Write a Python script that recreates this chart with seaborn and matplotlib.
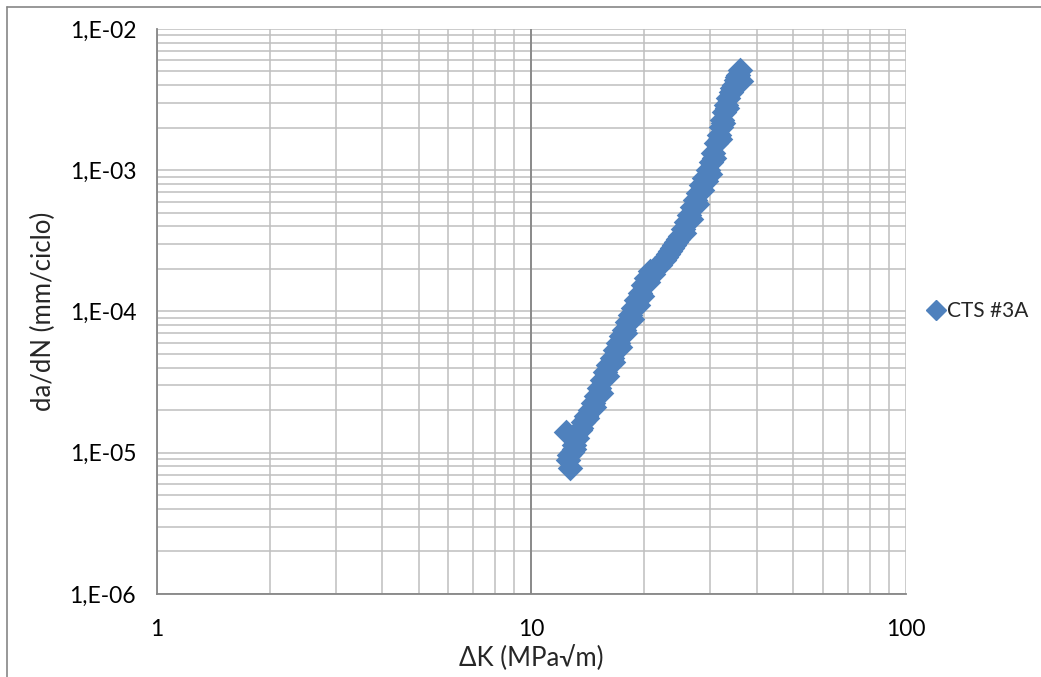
import numpy as np
import pandas as pd
import seaborn as sns
import matplotlib.pyplot as plt
from matplotlib.lines import Line2D
from matplotlib.ticker import FixedLocator, LogLocator, NullFormatter

sns.set_style("white")
plt.rcParams["font.family"] = ["Lato", "DejaVu Sans"]

# dati
delta_k = [12.67, 12.52, 12.83, 12.37, 12.99, 13.23, 13.47, 13.72, 13.98, 14.33,
           14.60, 14.87, 15.15, 15.43, 15.72, 16.01, 16.41, 16.71, 17.02, 17.34,
           17.66, 17.99, 18.32, 18.66, 19.01, 19.49, 19.86, 20.22, 20.73, 21.37,
           22.04, 22.59, 23.14, 23.72, 24.31, 24.92, 25.38, 25.85, 26.33, 26.82,
           27.33, 27.83, 28.35, 28.88, 29.60, 30.15, 30.52, 31.09, 31.67, 32.06,
           32.26, 32.66, 33.06, 33.47, 34.10, 34.73, 35.16, 35.60, 36.04,
           12.6, 13.0, 13.6, 14.1, 14.7, 15.3, 15.9, 16.5, 17.2, 17.8, 18.5,
           19.2, 19.7, 20.5, 21.1, 21.7, 22.8, 23.4, 24.0, 24.6, 25.6, 26.6,
           27.6, 28.6, 29.3, 29.9, 30.8, 31.9, 32.4, 33.3, 34.4, 35.4, 36.3]
dadn = [7.80e-6, 8.89e-6, 1.01e-5, 1.40e-5, 1.13e-5, 1.27e-5, 1.45e-5, 1.65e-5, 1.82e-5, 2.01e-5,
        2.25e-5, 2.52e-5, 2.87e-5, 3.27e-5, 3.73e-5, 4.18e-5, 4.69e-5, 5.34e-5, 5.98e-5, 6.71e-5,
        7.40e-5, 8.43e-5, 9.45e-5, 1.06e-4, 1.21e-4, 1.35e-4, 1.54e-4, 1.73e-4, 1.94e-4, 2.03e-4,
        2.13e-4, 2.32e-4, 2.55e-4, 2.82e-4, 3.11e-4, 3.42e-4, 3.84e-4, 4.31e-4, 4.82e-4, 5.50e-4,
        6.16e-4, 6.90e-4, 7.87e-4, 8.82e-4, 1.00e-3, 1.14e-3, 1.32e-3, 1.56e-3, 1.78e-3, 2.02e-3,
        2.27e-3, 2.58e-3, 2.90e-3, 3.25e-3, 3.58e-3, 4.01e-3, 4.35e-3, 4.72e-3, 5.12e-3,
        9.6e-6, 1.06e-5, 1.5e-5, 1.75e-5, 2.1e-5, 2.65e-5, 3.5e-5, 4.4e-5, 5.6e-5, 7.0e-5, 8.9e-5,
        1.12e-4, 1.28e-4, 1.62e-4, 1.85e-4, 2.05e-4, 2.42e-4, 2.68e-4, 2.95e-4, 3.25e-4, 3.6e-4, 4.55e-4,
        5.8e-4, 7.3e-4, 8.4e-4, 9.4e-4, 1.22e-3, 1.67e-3, 2.15e-3, 2.75e-3, 3.8e-3, 4.55e-3, 4.3e-3]
serie = "CTS #3A"

df = pd.DataFrame({"dK": delta_k, "dadN": dadn})

blu = "#4F81BD"
grigio = "#BFBFBF"
scuro = "#868686"

fig = plt.figure(figsize=(10.41, 6.77), dpi=100)
ax = fig.add_axes([0.1508, 0.1226, 0.8703 - 0.1508, 0.9572 - 0.1226])

ax.set_xscale("log")
ax.set_yscale("log")
ax.set_xlim(1, 100)
ax.set_ylim(1e-6, 1e-2)

ax.xaxis.set_minor_locator(LogLocator(base=10, subs=np.arange(2, 10)))
ax.yaxis.set_minor_locator(LogLocator(base=10, subs=np.arange(2, 10)))
ax.xaxis.set_minor_formatter(NullFormatter())
ax.yaxis.set_minor_formatter(NullFormatter())
ax.xaxis.set_major_locator(FixedLocator([1, 10, 100]))
ax.yaxis.set_major_locator(FixedLocator([1e-6, 1e-5, 1e-4, 1e-3, 1e-2]))
ax.set_xticklabels(["1", "10", "100"])
ax.set_yticklabels(["1,E-06", "1,E-05", "1,E-04", "1,E-03", "1,E-02"])

ax.grid(True, which="both", color=grigio, linewidth=1.1)
ax.axvline(10, color=scuro, linewidth=1.3, zorder=1)
ax.set_axisbelow(True)

for s in ["top", "right"]:
    ax.spines[s].set_visible(False)
for s in ["left", "bottom"]:
    ax.spines[s].set_color(scuro)
    ax.spines[s].set_linewidth(1.3)

ax.tick_params(which="major", length=6, width=1.3, color=scuro, labelsize=16.5,
               labelcolor="black", direction="out")
ax.tick_params(axis="y", which="major", pad=9)
ax.tick_params(axis="x", which="major", pad=12)
ax.tick_params(which="minor", length=0)

sns.scatterplot(data=df, x="dK", y="dadN", marker="D", s=170, color=blu,
                edgecolor=blu, linewidth=0, ax=ax, zorder=3, legend=False)

ax.set_xlabel("ΔK (MPa√m)", fontsize=18.5, labelpad=4)
ax.set_ylabel("da/dN (mm/ciclo)", fontsize=18.5, labelpad=10)

handle = Line2D([], [], marker="D", linestyle="none", color=blu, markersize=10)
fig.legend([handle], [serie], loc="center left", bbox_to_anchor=(0.871, 0.54),
           frameon=False, fontsize=15, handletextpad=0.05, handlelength=1.0)

# bordo del grafico
fig.add_artist(Line2D([0.0072, 0.0072], [0.0, 0.9897], color=scuro, linewidth=1.2))
fig.add_artist(Line2D([0.0072, 1.0], [0.9897, 0.9897], color=scuro, linewidth=1.2))

fig.savefig("out.png", dpi=100)
